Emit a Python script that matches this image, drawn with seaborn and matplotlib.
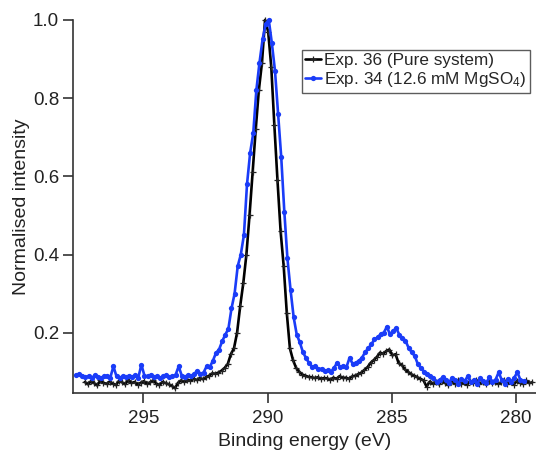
import numpy as np
import pandas as pd
import matplotlib
matplotlib.use("Agg")
import matplotlib.pyplot as plt
import seaborn as sns

# ---- data ----
# binding-energy grids (uniform instrument step)
be_step = 0.125
be_start_pure = 297.35
be_start_mg = 297.70

intensity_pure = [
    0.074, 0.068, 0.076, 0.071, 0.065, 0.078, 0.072, 0.069, 0.075, 0.070,
    0.066, 0.077, 0.073, 0.068, 0.080, 0.071, 0.074, 0.067, 0.072, 0.076,
    0.069, 0.073, 0.078, 0.070, 0.066, 0.074, 0.071, 0.068, 0.064, 0.058,
    0.072, 0.078, 0.074, 0.080, 0.077, 0.082, 0.079, 0.084, 0.081, 0.086,
    0.090, 0.096, 0.095, 0.098, 0.103, 0.110, 0.120, 0.145, 0.160, 0.200,
    0.268, 0.327, 0.400, 0.500, 0.610, 0.720, 0.820, 0.890, 1.000, 0.970,
    0.880, 0.730, 0.590, 0.460, 0.370, 0.250, 0.160, 0.130, 0.110, 0.100,
    0.093, 0.090, 0.087, 0.086, 0.084, 0.086, 0.082, 0.084, 0.083, 0.080,
    0.085, 0.082, 0.089, 0.084, 0.085, 0.082, 0.088, 0.090, 0.094, 0.098,
    0.105, 0.112, 0.123, 0.130, 0.138, 0.149, 0.146, 0.153, 0.157, 0.142,
    0.145, 0.122, 0.118, 0.106, 0.100, 0.094, 0.090, 0.086, 0.082, 0.078,
    0.062, 0.075, 0.070,
    0.074, 0.068, 0.077, 0.071, 0.066, 0.075, 0.070, 0.078, 0.069, 0.073,
    0.067, 0.076, 0.072, 0.079, 0.070, 0.074, 0.068, 0.077, 0.071, 0.075,
    0.069, 0.073, 0.078, 0.070, 0.074, 0.067, 0.076, 0.072, 0.069, 0.078,
    0.071, 0.073,
]

intensity_mg = [
    0.092, 0.094, 0.090, 0.086, 0.089, 0.084, 0.091, 0.087, 0.083, 0.088,
    0.090, 0.085, 0.114, 0.088, 0.084, 0.089, 0.086, 0.090, 0.087, 0.091,
    0.085, 0.118, 0.090, 0.088, 0.092, 0.086, 0.089, 0.084, 0.088, 0.091,
    0.086, 0.089, 0.092, 0.114, 0.090, 0.087, 0.091, 0.089, 0.094, 0.103,
    0.095, 0.098, 0.114, 0.112, 0.128, 0.148, 0.157, 0.178, 0.195, 0.210,
    0.262, 0.300, 0.370, 0.400, 0.450, 0.580, 0.660, 0.710, 0.820, 0.890,
    0.950, 0.990, 1.000, 0.940, 0.870, 0.760, 0.650, 0.510, 0.390, 0.310,
    0.240, 0.195, 0.175, 0.150, 0.135, 0.122, 0.112, 0.114, 0.106, 0.108,
    0.102, 0.104, 0.100, 0.110, 0.123, 0.112, 0.115, 0.112, 0.136, 0.120,
    0.123, 0.128, 0.136, 0.150, 0.160, 0.170, 0.183, 0.188, 0.196, 0.200,
    0.215, 0.196, 0.204, 0.212, 0.195, 0.186, 0.180, 0.161, 0.150, 0.140,
    0.119, 0.110, 0.100, 0.095, 0.089, 0.083, 0.075, 0.079, 0.086,
    0.080, 0.072, 0.085, 0.078, 0.070, 0.082, 0.076, 0.088, 0.074, 0.079,
    0.068, 0.083, 0.077, 0.072, 0.086, 0.075, 0.080, 0.099, 0.078, 0.070,
    0.082, 0.074, 0.085, 0.099, 0.079, 0.076,
]

be_pure = np.round(be_start_pure - be_step * np.arange(len(intensity_pure)), 3)
be_mg = np.round(be_start_mg - be_step * np.arange(len(intensity_mg)), 3)

label_pure = "Exp. 36 (Pure system)"
label_mg = "Exp. 34 (12.6 mM MgSO$_4$)"

x_ticks = [295, 290, 285, 280]
y_ticks = [0.2, 0.4, 0.6, 0.8, 1.0]

df = pd.concat([
    pd.DataFrame({"be": be_pure, "I": intensity_pure, "series": label_pure}),
    pd.DataFrame({"be": be_mg, "I": intensity_mg, "series": label_mg}),
])

# ---- style ----
sns.set_style("ticks")
plt.rcParams["font.family"] = ["Liberation Sans", "DejaVu Sans"]
plt.rcParams["mathtext.default"] = "regular"

fig = plt.figure(figsize=(5.36, 4.53), dpi=100)
ax = fig.add_axes([0.136, 0.1318, 0.864, 0.8242])

black = "#000000"
blue = "#1a3cf8"

sns.lineplot(data=df[df.series == label_pure], x="be", y="I", ax=ax,
             color=black, lw=1.9, marker="+", markersize=5, mew=0.9,
             mec="#222222", sort=False, estimator=None, label=label_pure,
             clip_on=False)
sns.lineplot(data=df[df.series == label_mg], x="be", y="I", ax=ax,
             color=blue, lw=1.9, marker="o", markersize=3.8, mew=0,
             mfc=blue, sort=False, estimator=None, label=label_mg,
             clip_on=False)

ax.set_xlim(297.83, 279.2)
ax.set_ylim(0.045, 1.0)
ax.set_xticks(x_ticks)
ax.set_xticklabels([str(t) for t in x_ticks])
ax.set_yticks(y_ticks)
ax.set_yticklabels([f"{t:.1f}" for t in y_ticks])

ax.set_xlabel("Binding energy (eV)", fontsize=14, color="#222222", labelpad=4)
ax.set_ylabel("Normalised intensity", fontsize=14, color="#222222", labelpad=2)

sns.despine(ax=ax)
for s in ["left", "bottom"]:
    ax.spines[s].set_linewidth(1.2)
    ax.spines[s].set_color("#333333")
ax.tick_params(axis="both", direction="out", length=7, width=1.2,
               color="#333333", labelsize=13.5, labelcolor="#222222")
ax.tick_params(axis="x", pad=5)
ax.tick_params(axis="y", pad=3)

leg = ax.legend(loc="upper left", bbox_to_anchor=(0.563, 0.8896),
                bbox_transform=fig.transFigure, fontsize=12.3,
                frameon=True, fancybox=False, borderpad=0.2,
                labelspacing=0.1, handlelength=0.9, handletextpad=0.2,
                borderaxespad=0)
leg.get_frame().set_edgecolor("#333333")
leg.get_frame().set_linewidth(1.0)

fig.savefig("out.png", dpi=100)
